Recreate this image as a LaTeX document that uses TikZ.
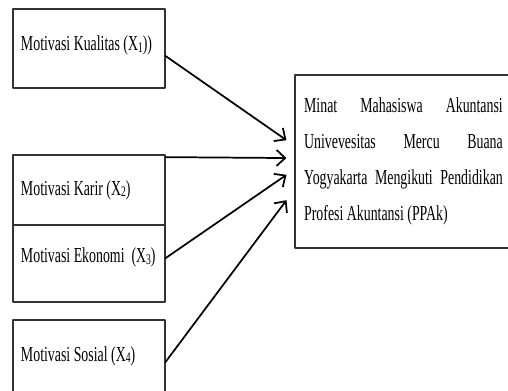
\documentclass[tikz,border=0pt]{standalone}
\usepackage{fontspec}
\setmainfont{Liberation Serif}[FakeStretch=0.65]
\usetikzlibrary{arrows.meta}
\newcommand{\subidx}[1]{{\fontsize{11}{11}\selectfont\raisebox{-1.2pt}{#1}}}
\begin{document}
\begin{tikzpicture}[x=0.75pt,y=0.75pt,>={Straight Barb[length=6.5pt,width=12pt]},
  font=\fontsize{16}{27}\selectfont, line join=round, line cap=round,
  kotak/.style={draw=black!80,line width=0.8pt,inner xsep=6pt,text width=102pt,align=flush left,minimum width=114pt},
  panah/.style={->,line width=1.3pt}]
\useasboundingbox (0,0) rectangle (508,390);
\clip (0,0) rectangle (508,390);
\node[kotak,minimum height=59.25pt,text depth=8pt] (x1) at (89,341.5) {Motivasi Kualitas (X\subidx{1}))};
\node[kotak,minimum height=52.5pt] (x2) at (89,200) {Motivasi Karir (X\subidx{2})};
\node[kotak,minimum height=57.75pt,text depth=12pt] (x3) at (89,126.5) {Motivasi Ekonomi\ \ (X\subidx{3})};
\node[kotak,minimum height=54pt] (x4) at (89,34) {Motivasi Sosial (X\subidx{4})};
\node[draw=black!80,line width=0.8pt,inner xsep=6pt,text width=149pt,align=justify,minimum width=162.75pt,minimum height=129.75pt] (minat) at (403.5,228.5)
  {\hyphenpenalty=10000 Minat Mahasiswa Akuntansi\linebreak Univevesitas Mercu Buana\linebreak Yogyakarta Mengikuti Pendidikan\linebreak Profesi Akuntansi (PPAk)};
\draw[panah] ([yshift=-5.6pt]x1.east) -- ([xshift=-6pt,yshift=16pt]minat.west);
\draw[panah] ([yshift=-2pt]x2.north east) -- ([xshift=-6pt,yshift=2.6pt]minat.west);
\draw[panah] ([yshift=4pt]x3.east) -- ([xshift=-6pt,yshift=-10pt]minat.west);
\draw[panah] ([yshift=-4.5pt]x4.east) -- ([xshift=-6pt,yshift=-29pt]minat.west);
\end{tikzpicture}
\end{document}
